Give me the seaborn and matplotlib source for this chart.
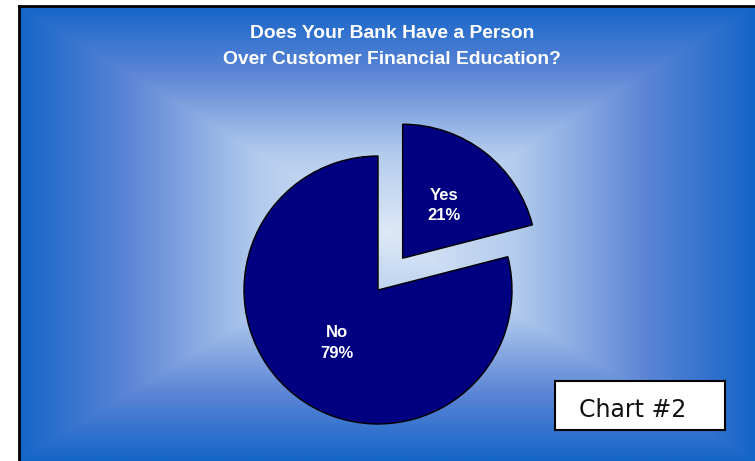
import numpy as np
import matplotlib
matplotlib.use("Agg")
import matplotlib.pyplot as plt
from matplotlib.colors import LinearSegmentedColormap
from matplotlib.patches import Rectangle
import seaborn as sns

# ---- data ----
categories = ["Yes", "No"]
values = [21, 79]
title_lines = ["Does Your Bank Have a Person", "Over Customer Financial Education?"]
badge_text = "Chart #2"

sns.set_style("white")
plt.rcParams["font.family"] = ["Liberation Sans", "DejaVu Sans"]

W, H = 755, 461
fig = plt.figure(figsize=(W / 100, H / 100), dpi=100)
fig.patch.set_facecolor("white")

# ---- background panel with rectangular "from centre" gradient ----
x0, y0top = 19, 6
bg = fig.add_axes([x0 / W, 0, (W - x0) / W, (H - y0top) / H])
bg.set_xlim(0, 1)
bg.set_ylim(0, 1)
nx, ny = 600, 400
xs = np.linspace(0, 1, nx)
ys = np.linspace(0, 1, ny)
X, Y = np.meshgrid(xs, ys)
cx, cy = 0.50, 0.50
t = np.maximum(np.abs(X - cx) / 0.5, np.abs(Y - cy) / 0.5)
t = np.clip(t, 0, 1)
cmap = LinearSegmentedColormap.from_list(
    "bgblue", [(0.0, "#dde9f7"), (0.35, "#b3cbed"), (0.7, "#5d86d6"), (1.0, "#1565c8")])
bg.imshow(t, cmap=cmap, extent=[0, 1, 0, 1], origin="lower", aspect="auto",
          interpolation="bilinear", vmin=0, vmax=1)
bg.set_xticks([])
bg.set_yticks([])
for s in ["right", "bottom"]:
    bg.spines[s].set_visible(False)
for s in ["left", "top"]:
    bg.spines[s].set_visible(True)
    bg.spines[s].set_color("black")
    bg.spines[s].set_linewidth(2)

# ---- title ----
fig.text(392 / W, 1 - 34 / H, title_lines[0], ha="center", va="center",
         color="white", fontsize=13.9, fontweight="bold")
fig.text(392 / W, 1 - 60 / H, title_lines[1], ha="center", va="center",
         color="white", fontsize=13.9, fontweight="bold")

# ---- pie ----
cxp, cyp, r = 378, 290, 134
lim = 1.5
side = 2 * lim * r
ax = fig.add_axes([(cxp - side / 2) / W, (H - cyp - side / 2) / H, side / W, side / H])
ax.set_facecolor("none")
ax.patch.set_visible(False)
labels_txt = [f"{c}\n{v}%" for c, v in zip(categories, values)]
wedges, texts = ax.pie(values, explode=[0.3, 0.0], startangle=90, counterclock=False,
                       colors=["#000080", "#000080"], labels=labels_txt, labeldistance=0.5,
                       wedgeprops=dict(edgecolor="black", linewidth=1),
                       textprops=dict(color="white", fontsize=12, fontweight="bold",
                                      ha="center", va="center", linespacing=1.45))
for tx in texts:
    tx.set_ha("center")
    tx.set_va("center")
ax.set_xlim(-lim, lim)
ax.set_ylim(-lim, lim)
ax.set_aspect("equal")
ax.axis("off")

# ---- "Chart #2" badge ----
bx, by, bw, bh = 555, 381, 170, 49
fig.patches.append(Rectangle((bx / W, 1 - (by + bh) / H), bw / W, bh / H,
                             transform=fig.transFigure, facecolor="white",
                             edgecolor="black", linewidth=1.5, zorder=5))
fig.text(633 / W, 1 - 410 / H, badge_text, ha="center", va="center",
         fontsize=17, family=["DejaVu Sans"], color="#111111", zorder=6)

fig.savefig("out.png", dpi=100)
